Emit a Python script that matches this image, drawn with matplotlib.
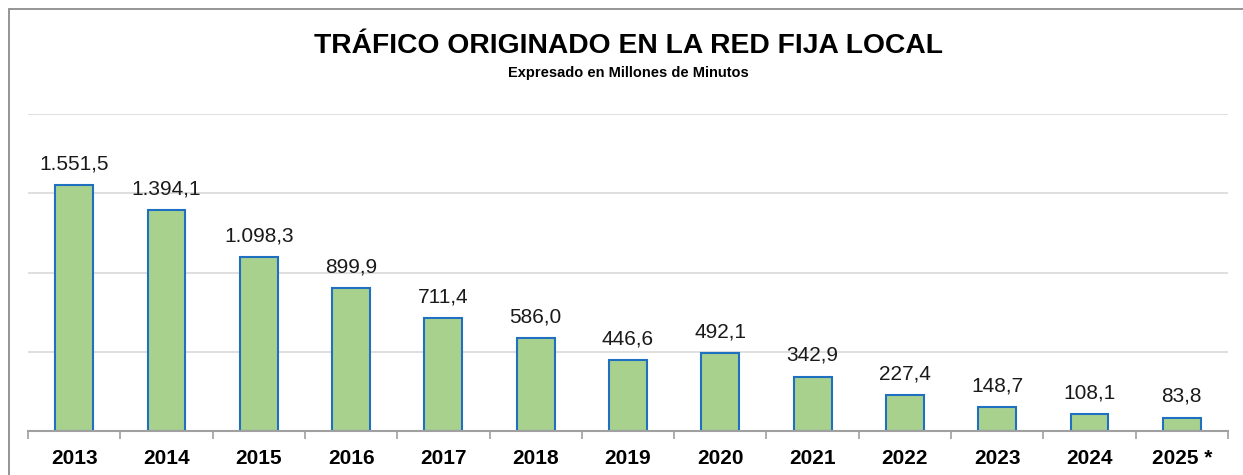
"""Bar chart of fixed local network traffic, in millions of minutes"""

import numpy as np
from matplotlib import pyplot as plt
from matplotlib.patches import Rectangle

YEARS = ['2013', '2014', '2015', '2016', '2017', '2018', '2019', '2020',
         '2021', '2022', '2023', '2024', '2025 *']
MINUTES = [1551.5, 1394.1, 1098.3, 899.9, 711.4, 586.0, 446.6, 492.1,
           342.9, 227.4, 148.7, 108.1, 83.8]

TITLE = 'TRÁFICO ORIGINADO EN LA RED FIJA LOCAL'
SUBTITLE = 'Expresado en Millones de Minutos'


def fmt_es(value: float) -> str:
    """Formats a number with Spanish separators"""
    text = '{:,.1f}'.format(value)
    return text.replace(',', '_').replace('.', ',').replace('_', '.')


def main():
    plt.rcParams['font.family'] = ['Liberation Sans', 'DejaVu Sans']

    fig = plt.figure(figsize=(12.43, 4.75), dpi=100)
    ax = fig.add_axes([28 / 1243, 1 - 431 / 475, 1200 / 1243, 317 / 475])

    x = np.arange(len(YEARS))
    ax.bar(x, MINUTES, width=0.41, color='#A9D18E', edgecolor='#1F70C1',
           linewidth=1.5, zorder=3)

    for xi, val in zip(x, MINUTES):
        ax.annotate(fmt_es(val), (xi, val), xytext=(0, 8.5), textcoords='offset points',
                    ha='center', va='bottom', fontsize=15, color='#1a1a1a')

    ax.set_xlim(-0.5, len(YEARS) - 0.5)
    ax.set_ylim(0, 2000)
    ax.set_yticks([500, 1000, 1500, 2000])
    ax.yaxis.grid(True, color='#d9d9d9', linewidth=1.2, zorder=0)
    ax.tick_params(axis='y', left=False, labelleft=False)

    ax.set_xticks(x)
    ax.set_xticklabels(YEARS, fontsize=15, fontweight='bold')
    ax.tick_params(axis='x', which='major', length=0, pad=13)
    ax.set_xticks(np.arange(len(YEARS) + 1) - 0.5, minor=True)
    ax.tick_params(axis='x', which='minor', length=6, color='#a0a0a0', width=1.2)

    for side in ('top', 'right', 'left'):
        ax.spines[side].set_visible(False)
    ax.spines['bottom'].set_color('#a0a0a0')
    ax.spines['bottom'].set_linewidth(1.5)
    ax.spines['bottom'].set_zorder(4)

    fig.text(628 / 1243, 1 - 46 / 475, TITLE, ha='center', va='center',
             fontsize=20.3, fontweight='bold')
    fig.text(628 / 1243, 1 - 73 / 475, SUBTITLE, ha='center', va='center',
             fontsize=10.5, fontweight='bold')

    # frame: only left and top edges fall inside the picture
    fig.patches.append(Rectangle((9 / 1243, -0.01), 1.0, 1 - 9 / 475 + 0.01,
                                 transform=fig.transFigure, fill=False,
                                 edgecolor='#8c8c8c', linewidth=1.3))

    fig.savefig('out.png', dpi=100)


if __name__ == '__main__':
    main()
